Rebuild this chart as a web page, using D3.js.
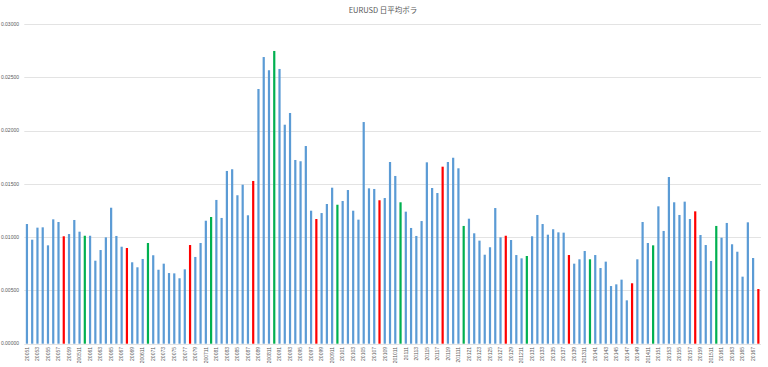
<!DOCTYPE html>
<html>
<head>
<meta charset="utf-8">
<script src="https://cdn.jsdelivr.net/npm/d3@7"></script>
<style>
  body { margin: 0; background: #fff; }
  svg { display: block; }
</style>
</head>
<body>
<div id="chart"></div>
<script>
// ── Data ──────────────────────────────────────────────────────────────────────

const title = 'EURUSD 日平均ボラ';

const firstYear = 2005;
const lastYear = 2016;
const lastMonth = 8;

// months highlighted in the original sheet
const redMonth = 8;
const greenMonth = 12;

const vola = [
  0.01123, 0.00976, 0.01089, 0.01092, 0.00923, 0.01167, 0.01142, 0.01008, 0.01029, 0.01161, 0.01051, 0.01013,
  0.01013, 0.00779, 0.00879, 0.00998, 0.01276, 0.01011, 0.00910, 0.00898, 0.00764, 0.00717, 0.00795, 0.00945,
  0.00830, 0.00694, 0.00751, 0.00663, 0.00660, 0.00614, 0.00698, 0.00926, 0.00814, 0.00945, 0.01154, 0.01189,
  0.01349, 0.01180, 0.01621, 0.01637, 0.01393, 0.01492, 0.01205, 0.01527, 0.02390, 0.02690, 0.02566, 0.02747,
  0.02578, 0.02055, 0.02165, 0.01724, 0.01712, 0.01855, 0.01248, 0.01170, 0.01226, 0.01311, 0.01464, 0.01304,
  0.01339, 0.01442, 0.01248, 0.01164, 0.02080, 0.01458, 0.01452, 0.01346, 0.01367, 0.01705, 0.01574, 0.01327,
  0.01239, 0.01086, 0.01011, 0.01151, 0.01702, 0.01461, 0.01414, 0.01661, 0.01705, 0.01745, 0.01646, 0.01105,
  0.01173, 0.01036, 0.00967, 0.00835, 0.00905, 0.01273, 0.00998, 0.01013, 0.00973, 0.00832, 0.00801, 0.00823,
  0.01008, 0.01208, 0.01123, 0.01023, 0.01074, 0.01045, 0.01042, 0.00832, 0.00751, 0.00792, 0.00870, 0.00792,
  0.00832, 0.00710, 0.00770, 0.00541, 0.00557, 0.00601, 0.00407, 0.00567, 0.00792, 0.01142, 0.00945, 0.00923,
  0.01289, 0.01058, 0.01564, 0.01327, 0.01208, 0.01333, 0.01170, 0.01242, 0.01020, 0.00926, 0.00776, 0.01105,
  0.00995, 0.01133, 0.00933, 0.00863, 0.00629, 0.01139, 0.00804, 0.00513
];

const yTicks = [0, 0.005, 0.01, 0.015, 0.02, 0.025, 0.03];

// category labels like 20051 … 200512
const months = [];
for (let yr = firstYear; yr <= lastYear; yr++) {
  for (let m = 1; m <= 12; m++) {
    if (yr < lastYear || m <= lastMonth) months.push({ label: `${yr}${m}`, m });
  }
}

const rows = months.map((d, i) => ({ ...d, i, v: vola[i] }));

// ── Chart ─────────────────────────────────────────────────────────────────────

const W = 768, H = 367;
const plotLeft = 24.3, plotRight = 761, plotTop = 24, plotBottom = 343.7;

const svg = d3.select('#chart').append('svg')
  .attr('width', W).attr('height', H);

const x = d3.scaleBand()
  .domain(rows.map(d => d.i))
  .range([plotLeft, plotRight])
  .paddingInner(0.58)
  .paddingOuter(0.29);

const y = d3.scaleLinear()
  .domain([0, 0.03])
  .range([plotBottom, plotTop]);

// gridlines
svg.append('g')
  .selectAll('line').data(yTicks).join('line')
  .attr('x1', plotLeft).attr('x2', plotRight)
  .attr('y1', d => Math.round(y(d)) + 0.5)
  .attr('y2', d => Math.round(y(d)) + 0.5)
  .attr('stroke', '#e3e3e3')
  .attr('stroke-width', 1);

// y labels
svg.append('g')
  .selectAll('text').data(yTicks).join('text')
  .attr('x', 19)
  .attr('y', d => y(d))
  .attr('dy', '0.35em')
  .attr('text-anchor', 'end')
  .attr('font-family', 'Liberation Sans, Arial, sans-serif')
  .attr('font-size', '5px')
  .attr('fill', '#595959')
  .text(d3.format('.5f'));

// bars
const colorOf = d => d.m === redMonth ? '#ff0000' : d.m === greenMonth ? '#00b050' : '#5b9bd5';

svg.append('g')
  .selectAll('rect').data(rows).join('rect')
  .attr('x', d => x(d.i))
  .attr('y', d => y(d.v))
  .attr('width', x.bandwidth())
  .attr('height', d => y(0) - y(d.v))
  .attr('fill', colorOf);

// x labels, every other month
svg.append('g')
  .selectAll('text').data(rows.filter(d => d.i % 2 === 0)).join('text')
  .attr('transform', d => `translate(${x(d.i) + x.bandwidth() / 2},347) rotate(-90)`)
  .attr('dy', '0.35em')
  .attr('text-anchor', 'end')
  .attr('font-family', 'Liberation Sans, Arial, sans-serif')
  .attr('font-size', '5px')
  .attr('fill', '#595959')
  .text(d => d.label);

// title
svg.append('text')
  .attr('x', 383)
  .attr('y', 13)
  .attr('text-anchor', 'middle')
  .attr('font-family', 'Noto Sans CJK JP, sans-serif')
  .attr('font-size', '7.5px')
  .attr('fill', '#595959')
  .text(title);
</script>
</body>
</html>
